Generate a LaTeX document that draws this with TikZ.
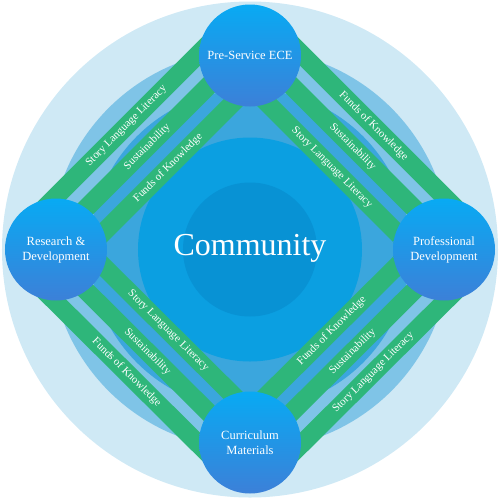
\documentclass[tikz,border=0pt]{standalone}
\usepackage{fontspec}
\setmainfont{Liberation Serif}
\usetikzlibrary{calc}
\pgfdeclarelayer{rings}
\pgfdeclarelayer{bands}
\pgfsetlayers{rings,bands,main}
\definecolor{ringA}{HTML}{CFE9F5}
\definecolor{ringB}{HTML}{7FC4E7}
\definecolor{ringC}{HTML}{3BA6DD}
\definecolor{ringD}{HTML}{0B9FE1}
\definecolor{ringE}{HTML}{0892D4}
\definecolor{bandgreen}{HTML}{2EB67A}
\definecolor{hubtop}{HTML}{08AAF3}
\definecolor{hubbot}{HTML}{3C80D8}
\newcommand{\bandline}[5]{%
  \draw[band] ($(#1.center)!#4!#3:(#2.center)$) -- ($(#2.center)!#4!-#3:(#1.center)$)
    node[bandlabel] {#5};}
\begin{document}
\begin{tikzpicture}[x=1pt,y=1pt,
  hub/.style={circle, minimum size=102pt, inner sep=0pt, shading=axis,
    top color=hubtop, bottom color=hubbot, text=white, align=center,
    font=\fontsize{12.5}{15}\selectfont},
  band/.style={draw=bandgreen, line width=18.5pt},
  bandlabel/.style={midway, sloped, text=white, inner sep=0pt,
    font=\fontsize{11}{13}\selectfont}]
\useasboundingbox (-250,-249.5) rectangle (250,249.5);
% hubs
\node[hub] (T) at (0,194) {Pre-Service ECE};
\node[hub] (L) at (-194,0) {Research \&\\Development};
\node[hub] (R) at (194,0) {Professional\\Development};
\node[hub] (B) at (0,-193) {Curriculum\\Materials};
% rings
\begin{pgfonlayer}{rings}
  \fill[ringA] (0,0) circle (248);
  \fill[ringB] (0,0) circle (200);
  \fill[ringC] (0,0) circle (160);
  \fill[ringD] (0,0) circle (112);
  \fill[ringE] (0,0) circle (67);
\end{pgfonlayer}
\node[text=white, font=\fontsize{32}{38}\selectfont] (C) at (0,1) {Community};
% bands
\begin{pgfonlayer}{bands}
  \bandline{T}{L}{-90}{37.5pt}{Story Language Literacy}
  \bandline{T}{L}{-90}{8pt}{Sustainability}
  \bandline{T}{L}{-90}{-21.5pt}{Funds of Knowledge}
  \bandline{T}{R}{90}{37.5pt}{Funds of Knowledge}
  \bandline{T}{R}{90}{8pt}{Sustainability}
  \bandline{T}{R}{90}{-21.5pt}{Story Language Literacy}
  \bandline{L}{B}{-90}{37.5pt}{Funds of Knowledge}
  \bandline{L}{B}{-90}{8pt}{Sustainability}
  \bandline{L}{B}{-90}{-21.5pt}{Story Language Literacy}
  \bandline{B}{R}{-90}{37.5pt}{Story Language Literacy}
  \bandline{B}{R}{-90}{8pt}{Sustainability}
  \bandline{B}{R}{-90}{-21.5pt}{Funds of Knowledge}
\end{pgfonlayer}
\end{tikzpicture}
\end{document}
